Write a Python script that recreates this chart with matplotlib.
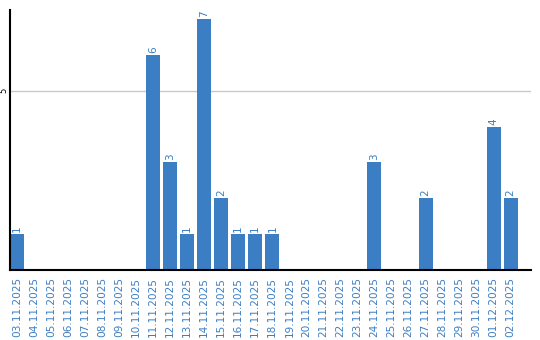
import numpy as np
import matplotlib
matplotlib.use('Agg')
import matplotlib.pyplot as plt

DATES = ['03.11.2025', '04.11.2025', '05.11.2025', '06.11.2025', '07.11.2025',
         '08.11.2025', '09.11.2025', '10.11.2025', '11.11.2025', '12.11.2025',
         '13.11.2025', '14.11.2025', '15.11.2025', '16.11.2025', '17.11.2025',
         '18.11.2025', '19.11.2025', '20.11.2025', '21.11.2025', '22.11.2025',
         '23.11.2025', '24.11.2025', '25.11.2025', '26.11.2025', '27.11.2025',
         '28.11.2025', '29.11.2025', '30.11.2025', '01.12.2025', '02.12.2025']
COUNTS = [1, 0, 0, 0, 0, 0, 0, 0, 6, 3,
          1, 7, 2, 1, 1, 1, 0, 0, 0, 0,
          0, 3, 0, 0, 2, 0, 0, 0, 4, 2]

BLUE = '#3b7ec3'

plt.rcParams.update({'font.family': 'DejaVu Sans', 'font.size': 7})

fig = plt.figure(figsize=(5.4, 3.4), dpi=100)
ax = fig.add_axes([0.0185, 0.206, 0.965, 0.765])

x = np.arange(len(DATES))
width = 0.82
ax.bar(x, COUNTS, width, color=BLUE, zorder=2)
for xi, val in zip(x, COUNTS):
    if val > 0:
        ax.text(xi, val + 0.06, str(val), rotation=90, ha='center', va='bottom',
                fontsize=7.5, color=BLUE)

ax.set_xlim(-width / 2, 30.2)
ax.set_ylim(0, 7.26)
ax.set_xticks(x)
ax.set_xticklabels(DATES, rotation=90, fontsize=7.6, color=BLUE)
ax.tick_params(axis='x', length=0, pad=5)
ax.set_yticks([5])
ax.set_yticklabels(['5'], rotation=90, va='center', fontsize=6)
ax.tick_params(axis='y', length=0, pad=1)
ax.grid(True, axis='y', color='#c8c8c8', lw=1, zorder=0)

for side in ('top', 'right'):
    ax.spines[side].set_visible(False)
for side in ('left', 'bottom'):
    ax.spines[side].set_linewidth(1.5)
    ax.spines[side].set_color('black')
    ax.spines[side].set_zorder(3)

fig.savefig('out.png', dpi=100)
plt.close(fig)
